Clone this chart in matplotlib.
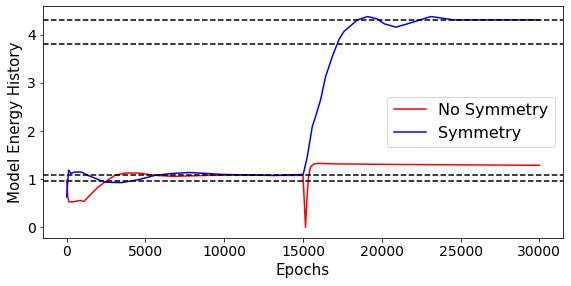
import matplotlib
matplotlib.use("Agg")
import matplotlib.pyplot as plt

# No Symmetry run
ep_nosym = [0, 80, 150, 400, 830, 1100, 1360, 2000, 2420, 3060, 3700, 4540, 5180,
            5710, 6770, 8900, 11020, 13140, 14840, 15000, 15080, 15160, 15250,
            15350, 15480, 15700, 16000, 17000, 20000, 25000, 30000]
e_nosym = [0.98, 0.62, 0.53, 0.53, 0.56, 0.54, 0.63, 0.84, 0.94, 1.08, 1.13, 1.13, 1.10,
           1.08, 1.06, 1.08, 1.09, 1.08, 1.08, 1.08, 0.55, 0.0, 0.6,
           1.05, 1.26, 1.32, 1.33, 1.32, 1.31, 1.30, 1.29]

# Symmetry run
ep_sym = [0, 127, 255, 510, 936, 1360, 2420, 3480, 4540, 5600, 6670, 7830, 9960,
          13140, 15013, 15268, 15585, 15796, 16115, 16433, 16860, 17280, 17600,
          18025, 18450, 19090, 19726, 20150, 20890, 21640, 23120, 24600, 27000, 30000]
e_sym = [0.63, 1.19, 1.12, 1.15, 1.15, 1.08, 0.94, 0.93, 0.99, 1.08, 1.12, 1.14, 1.10,
         1.08, 1.10, 1.46, 2.09, 2.30, 2.65, 3.13, 3.55, 3.90, 4.07,
         4.19, 4.31, 4.38, 4.33, 4.23, 4.16, 4.23, 4.38, 4.31, 4.31, 4.31]

ref_levels = [4.3, 3.8, 1.09, 0.96]

plt.rcParams['font.size'] = 14
fig = plt.figure(figsize=(571 / 72, 286 / 72), dpi=72)
ax = fig.add_axes([0.0753, 0.168, 0.9107, 0.811])
ax.plot(ep_nosym, e_nosym, color='r', label='No Symmetry')
ax.plot(ep_sym, e_sym, color='b', label='Symmetry')
for lvl in ref_levels:
    ax.axhline(lvl, color='k', linestyle='--', linewidth=1.5)
ax.set_xlabel('Epochs', fontsize=15)
ax.set_ylabel('Model Energy History', fontsize=15)
ax.legend(loc='center right', fontsize=16)
fig.savefig('out.png', dpi=72)
